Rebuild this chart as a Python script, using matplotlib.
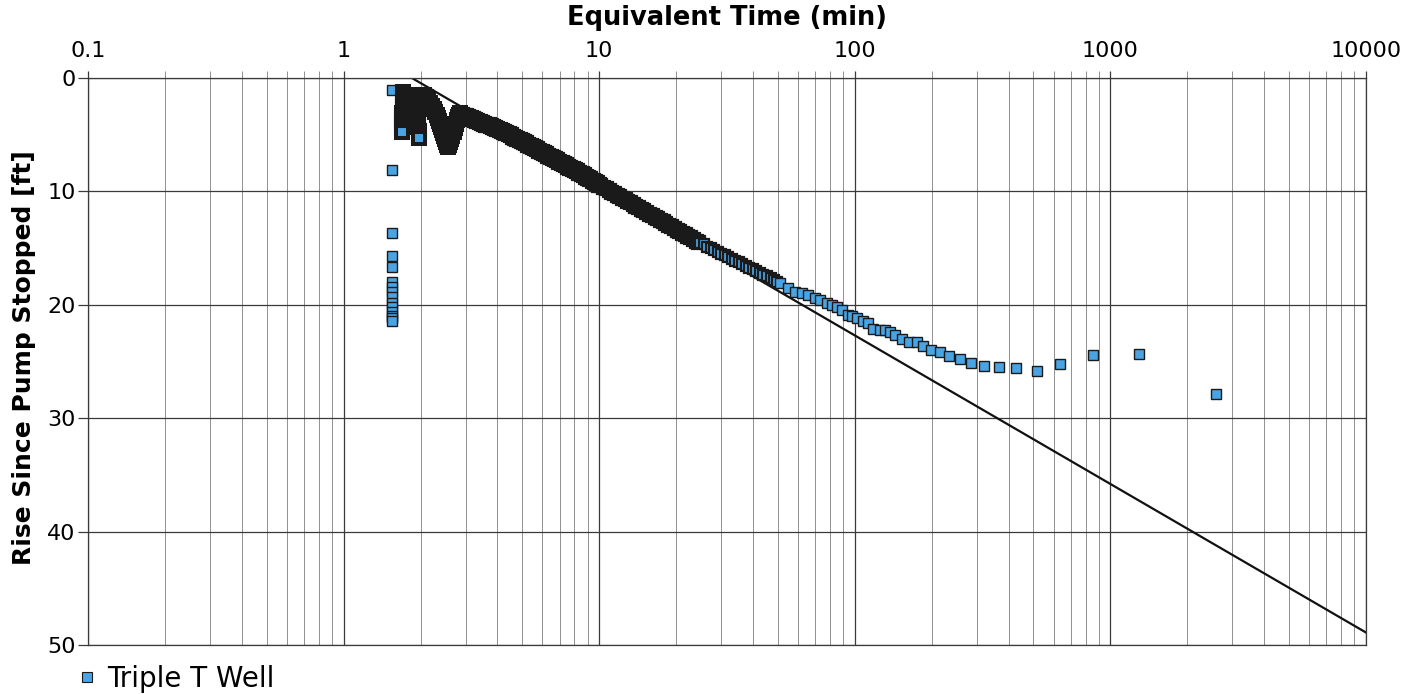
import matplotlib
matplotlib.use("Agg")
import matplotlib.pyplot as plt
from matplotlib.ticker import FixedLocator, FixedFormatter, LogLocator, NullFormatter

# ---------------- data ----------------
series_name = "Triple T Well"

# vertical stack of early readings near 1.5 min
stack_t = [1.54] * 15
stack_rise = [1.06, 8.1, 13.7, 15.7, 16.7, 18.0, 18.4, 18.9, 19.3, 19.8, 20.2, 20.6, 21.0, 21.2, 21.4]

# early oscillation (columns, falling and rising strokes)
osc_t = [1.70, 1.70, 1.70, 1.70, 1.70, 1.70, 1.70, 1.69, 1.69, 1.69, 1.69, 1.69, 1.69, 1.69, 1.69,
         1.94, 1.94, 1.95, 1.95, 1.95, 1.95, 1.96, 1.96, 1.96, 1.97, 1.97, 1.97,
         2.063, 2.101, 2.139, 2.178, 2.218, 2.248, 2.279, 2.310, 2.341, 2.362,
         2.384, 2.405, 2.427, 2.449, 2.471, 2.493, 2.515, 2.538, 2.561,
         2.596, 2.619, 2.643, 2.667, 2.692, 2.716, 2.741, 2.766, 2.791, 2.816, 2.841]
osc_rise = [1.23, 1.50, 1.76, 2.03, 2.29, 2.56, 2.82, 3.05, 3.25, 3.45, 3.70, 3.97, 4.23, 4.50, 4.76,
            1.50, 1.85, 2.20, 2.56, 2.91, 3.26, 3.62, 3.97, 4.32, 4.67, 5.03, 5.29,
            1.50, 1.68, 1.94, 2.20, 2.47, 2.73, 3.00, 3.26, 3.53, 3.79,
            4.06, 4.32, 4.59, 4.85, 5.11, 5.38, 5.64, 5.91, 6.08,
            5.91, 5.64, 5.38, 5.11, 4.76, 4.41, 4.06, 3.70, 3.44, 3.26, 3.13]

# main recovery trend 2.9 - 10 min
main1_t = [2.90, 2.96, 3.02, 3.08, 3.14, 3.20, 3.27, 3.34, 3.41, 3.48, 3.55, 3.62, 3.69,
           3.76, 3.84, 3.92, 4.00, 4.08, 4.16, 4.24, 4.33, 4.42, 4.51, 4.60, 4.69, 4.78,
           4.88, 4.98, 5.08, 5.18, 5.28, 5.39, 5.50, 5.61, 5.72, 5.84, 5.96, 6.08, 6.20,
           6.32, 6.45, 6.58, 6.71, 6.85, 6.99, 7.13, 7.27, 7.42, 7.57, 7.72, 7.88, 8.04,
           8.20, 8.36, 8.53, 8.70, 8.88, 9.06, 9.24, 9.43, 9.62, 9.81, 10.0]
main1_rise = [3.23, 3.31, 3.39, 3.47, 3.55, 3.62, 3.71, 3.79, 3.87, 3.95, 4.03, 4.11, 4.18,
              4.26, 4.34, 4.42, 4.50, 4.58, 4.67, 4.76, 4.87, 4.97, 5.07, 5.16, 5.26, 5.35,
              5.45, 5.56, 5.67, 5.77, 5.87, 5.98, 6.09, 6.20, 6.30, 6.42, 6.52, 6.63, 6.74,
              6.84, 6.95, 7.06, 7.16, 7.27, 7.38, 7.49, 7.59, 7.70, 7.81, 7.92, 8.03, 8.14,
              8.24, 8.35, 8.46, 8.58, 8.70, 8.82, 8.93, 9.05, 9.17, 9.29, 9.40]

# 10 - 25 min
main2_t = [10.1, 10.35, 10.6, 10.9, 11.15, 11.4, 11.7, 12.0, 12.3, 12.6, 12.9, 13.2, 13.5,
           13.85, 14.2, 14.55, 14.9, 15.3, 15.7, 16.1, 16.5, 16.9, 17.3, 17.7, 18.15, 18.6,
           19.1, 19.6, 20.1, 20.6, 21.1, 21.6, 22.1, 22.7, 23.3, 23.9, 24.4]
main2_rise = [9.46, 9.60, 9.73, 9.89, 10.02, 10.14, 10.29, 10.44, 10.57, 10.71, 10.84, 10.97,
              11.10, 11.25, 11.39, 11.53, 11.66, 11.81, 11.96, 12.10, 12.24, 12.38, 12.51,
              12.64, 12.78, 12.92, 13.07, 13.22, 13.36, 13.50, 13.64, 13.77, 13.90, 14.05,
              14.20, 14.35, 14.46]

# 25 - 50 min
main3_t = [24.8, 25.6, 26.4, 27.3, 28.2, 29.1, 30.0, 31.0, 32.0, 33.0, 34.1, 35.2, 36.3,
           37.5, 38.7, 39.9, 41.2, 42.5, 43.9, 45.3, 46.8, 48.3, 49.8]
main3_rise = [14.55, 14.68, 14.88, 15.01, 15.20, 15.31, 15.50, 15.62, 15.82, 15.93, 16.13,
              16.24, 16.43, 16.55, 16.75, 16.86, 17.05, 17.17, 17.37, 17.48, 17.68, 17.79, 17.98]

# late readings
late_t = [51.0, 54.9, 58.3, 62.0, 65.8, 69.9, 73.1, 77.6, 81.2, 85.0, 88.9, 94.3, 97.3,
          101.7, 108, 112.9, 118.1, 125.5, 131.3, 137.3, 143.7, 152.6, 163.4, 174.6, 184.3,
          198.6, 215.4, 234.3, 257.9, 284, 320, 367, 426, 515, 637, 855, 1290, 2582]
late_rise = [18.08, 18.55, 18.84, 18.99, 19.14, 19.43, 19.58, 19.87, 20.02, 20.17, 20.46,
             20.90, 21.0, 21.2, 21.4, 21.6, 22.1, 22.2, 22.2, 22.4, 22.7, 23.0, 23.25, 23.3,
             23.6, 24.0, 24.2, 24.5, 24.8, 25.1, 25.4, 25.5, 25.6, 25.8, 25.2, 24.45, 24.3, 27.9]

# straight-line fit (semi-log)
fit_t = [1.85, 10000]
fit_rise = [0.0, 48.9]

x_ticks = [0.1, 1, 10, 100, 1000, 10000]
x_tick_labels = ["0.1", "1", "10", "100", "1000", "10000"]
y_ticks = [0, 10, 20, 30, 40, 50]

# ---------------- figure ----------------
fig = plt.figure(figsize=(14.24, 6.94), dpi=100)
ax = fig.add_axes([88 / 1424, 1 - 645 / 694, (1366 - 88) / 1424, (645 - 78) / 694])

ax.set_xscale("log")
ax.set_xlim(0.1, 10000)
ax.set_ylim(50, 0)

ax.xaxis.set_major_locator(FixedLocator(x_ticks))
ax.xaxis.set_major_formatter(FixedFormatter(x_tick_labels))
ax.xaxis.set_minor_locator(LogLocator(base=10, subs=range(2, 10)))
ax.xaxis.set_minor_formatter(NullFormatter())
ax.set_yticks(y_ticks)
ax.grid(which="major", axis="both", color="#3a3a3a", linewidth=0.9)
ax.grid(which="minor", axis="x", color="#909090", linewidth=0.7)
ax.set_axisbelow(True)

ax.plot(fit_t, fit_rise, color="#111111", linewidth=1.6, zorder=2)

face = "#4AA3E2"
edge = "#1a1a1a"
segments = [
    (stack_t, stack_rise, 7.8, 1.0),
    (osc_t, osc_rise, 8.0, 2.9),
    (main1_t, main1_rise, 8.2, 3.0),
    (main2_t, main2_rise, 8.0, 2.3),
    (main3_t, main3_rise, 7.8, 1.6),
    (late_t, late_rise, 7.8, 1.0),
]
for ts, rs, ms, ew in segments:
    ax.plot(ts, rs, linestyle="none", marker="s", markersize=ms,
            markerfacecolor=face, markeredgecolor=edge, markeredgewidth=ew, zorder=3)

ax.xaxis.tick_top()
ax.xaxis.set_label_position("top")
ax.tick_params(axis="x", which="major", direction="out", length=5, width=0.9,
               color="#3a3a3a", labelsize=16, pad=7)
ax.tick_params(axis="x", which="minor", direction="out", length=5, width=0.7, color="#909090")
ax.tick_params(axis="y", which="major", direction="out", length=7, width=0.9,
               color="#3a3a3a", labelsize=16, pad=2)
for sp in ax.spines.values():
    sp.set_color("#3a3a3a")
    sp.set_linewidth(0.9)

ax.set_xlabel("Equivalent Time (min)", fontsize=18.5, fontweight="bold")
ax.xaxis.label.set_va("center")
ax.xaxis.set_label_coords(0.5, 1 + 60 / 567)
ax.set_ylabel("Rise Since Pump Stopped [ft]", fontsize=18, fontweight="bold")
ax.yaxis.label.set_va("center")
ax.yaxis.set_label_coords(-64 / 1278, (645 - 358) / 567)

leg_handle, = ax.plot([], [], linestyle="none", marker="s", markersize=7,
                      markerfacecolor=face, markeredgecolor=edge, markeredgewidth=0.8)
ax.legend([leg_handle], [series_name], loc="center left",
          bbox_to_anchor=(79 / 1424, 1 - 679 / 694),
          bbox_transform=fig.transFigure, frameon=False, fontsize=20,
          handlelength=0.6, handletextpad=0.4, borderpad=0, borderaxespad=0)

fig.savefig("out.png", dpi=100, facecolor="white")
